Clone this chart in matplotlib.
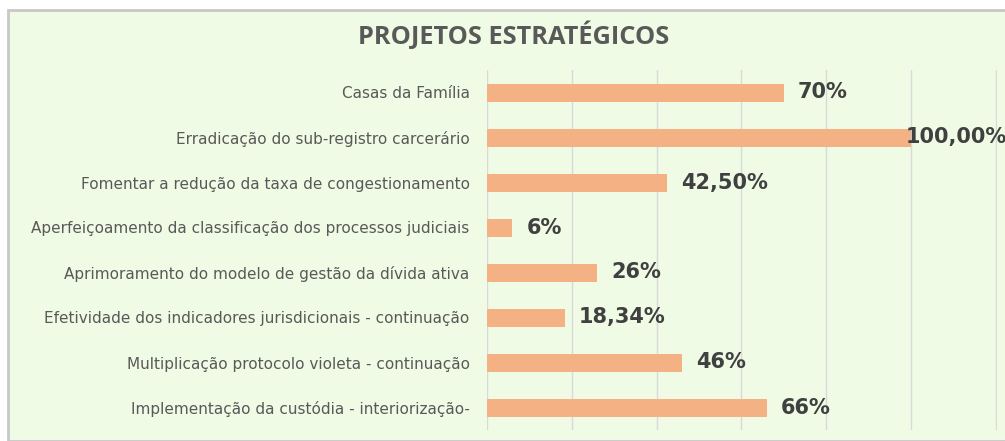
import matplotlib.pyplot as plt
from matplotlib.patches import Rectangle

# project names (top to bottom) and completion percentages
projetos = [
    "Casas da Família",
    "Erradicação do sub-registro carcerário",
    "Fomentar a redução da taxa de congestionamento",
    "Aperfeiçoamento da classificação dos processos judiciais",
    "Aprimoramento do modelo de gestão da dívida ativa",
    "Efetividade dos indicadores jurisdicionais - continuação",
    "Multiplicação protocolo violeta - continuação",
    "Implementação da custódia - interiorização-",
]
valores = [70, 100, 42.5, 6, 26, 18.34, 46, 66]
rotulos = ["70%", "100,00%", "42,50%", "6%", "26%", "18,34%", "46%", "66%"]

BG = "#EFFBE5"
BAR = "#F4B183"

plt.rcParams['font.family'] = ['DejaVu Sans']

fig = plt.figure(figsize=(10.05, 4.41), dpi=100)
fig.patch.set_facecolor("white")

# chart panel with grey border on top/left
panel = Rectangle((8 / 1005, 0), 1, 1 - 10 / 441, transform=fig.transFigure,
                  facecolor=BG, edgecolor="#C8C8C8", linewidth=2, zorder=-5)
fig.patches.append(panel)

ax = fig.add_axes([487 / 1005, 1 - 430 / 441, 510 / 1005, 360 / 441])
ax.set_zorder(2)
ax.set_facecolor("none")

y = list(range(len(projetos)))
ax.barh(y, valores, height=0.4, color=BAR, zorder=3)
ax.set_ylim(len(projetos) - 0.5, -0.5)
ax.set_xlim(0, 120.3)
ax.set_xticks([0, 20, 40, 60, 80, 100, 120])
ax.set_xticklabels([])
ax.tick_params(length=0)
ax.grid(axis="x", color="#D9D9D9", linewidth=1, zorder=0)
for s in ax.spines.values():
    s.set_visible(False)

ax.set_yticks(y)
ax.set_yticklabels(projetos, fontsize=11, color="#595959")
ax.tick_params(axis="y", pad=12.5)

for yi, v, lab in zip(y, valores, rotulos):
    off = 10 if v < 100 else -4
    ax.annotate(lab, (v, yi), xytext=(off, 0), textcoords="offset points",
                va="center", ha="left", fontsize=15, fontweight="bold",
                color="#404040", annotation_clip=False)

fig.text(514 / 1005, 1 - 36 / 441, "PROJETOS ESTRATÉGICOS", ha="center",
         va="center", fontsize=18.3, fontweight="bold", color="#595959",
         family="Open Sans")

fig.savefig("out.png", dpi=100, facecolor=fig.get_facecolor())
